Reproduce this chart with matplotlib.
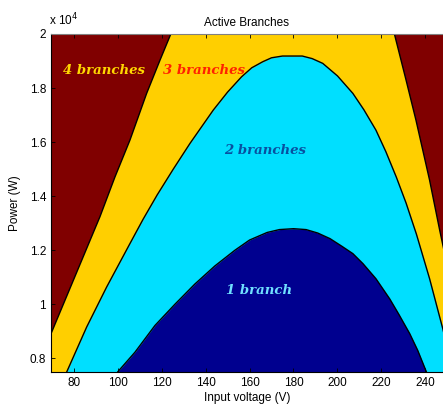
import matplotlib
matplotlib.use("Agg")
import matplotlib.pyplot as plt
from matplotlib.ticker import FuncFormatter

# Boundary of the "1 branch" region (input voltage V, power W)
b1_v = [99, 100, 107.9, 117, 126, 135.1, 144.2, 153.3, 160, 168, 173.6, 180, 185.7, 191, 196.6, 202, 207, 211.6, 217.5, 223.8, 228, 232.9, 236.5, 240.5, 242]
b1_p = [7200, 7500, 8233, 9222, 10000, 10750, 11420, 12000, 12380, 12660, 12767, 12800, 12767, 12640, 12433, 12150, 11878, 11507, 10950, 10200, 9620, 8913, 8300, 7493, 7200]

# Boundary of the "2 branches" region
b2_v = [75, 76.8, 85.9, 95, 105.6, 111.6, 118, 125.3, 132.9, 143.5, 150, 156.4, 161, 166, 170, 175, 184, 188.5, 193.3, 200, 207, 212, 217.5, 222, 226.8, 231.2, 235.9, 241.9, 247.9, 250]
b2_p = [7150, 7493, 9159, 10641, 12248, 13150, 14050, 15000, 15952, 17185, 17850, 18419, 18750, 18974, 19120, 19185, 19185, 19090, 18914, 18450, 17804, 17200, 16444, 15650, 14700, 13750, 12600, 10950, 9100, 8400]

# Boundary of the "3 branches" region (left and right edges)
b3l_v = [62.5, 70, 92, 98.8, 105.6, 113.2, 119.3, 124.2, 126]
b3l_p = [7500, 8974, 13250, 14715, 16074, 17803, 19037, 20000, 20400]
b3r_v = [225, 225.9, 231.2, 235.7, 241.9, 246.5, 250]
b3r_p = [20400, 20000, 18296, 16815, 14593, 12741, 11400]

y_ticks = [8000, 10000, 12000, 14000, 16000, 18000, 20000]
x_ticks = [80, 100, 120, 140, 160, 180, 200, 220, 240]

labels = ["4 branches", "3 branches", "2 branches", "1 branch"]
label_v = [93.8, 139.2, 167.0, 164.2]
label_p = [18667, 18667, 15704, 10519]
label_c = ["#ffd800", "#ff2000", "#0850a0", "#70e0ff"]

c_red = "#800000"
c_yel = "#ffcf00"
c_cyan = "#00dfff"
c_navy = "#00008f"

plt.rcParams['font.family'] = ['Liberation Sans', 'DejaVu Sans']
fig = plt.figure(figsize=(4.43, 4.08), dpi=100)
ax = fig.add_axes([51/443, 1-372/408, 1-51/443, (372-34)/408])
ax.set_facecolor(c_red)

yel_v = [b3l_v[0]] + b3l_v + b3r_v + [b3r_v[-1]]
yel_p = [7000] + b3l_p + b3r_p + [7000]
ax.fill(yel_v, yel_p, color=c_yel, lw=0)
ax.plot(b3l_v, b3l_p, color='black', lw=1.0)
ax.plot(b3r_v, b3r_p, color='black', lw=1.0)

ax.fill_between(b2_v, b2_p, 7000, color=c_cyan, lw=0)
ax.plot(b2_v, b2_p, color='black', lw=1.0)
ax.fill_between(b1_v, b1_p, 7000, color=c_navy, lw=0)
ax.plot(b1_v, b1_p, color='black', lw=1.0)

for t, v, p, c in zip(labels, label_v, label_p, label_c):
    ax.text(v, p, t, color=c, fontsize=9.5, style='italic', fontweight='bold',
            family='DejaVu Serif', ha='center', va='center')

ax.set_xlim(69.7, 248)
ax.set_ylim(7500, 20000)
ax.set_xticks(x_ticks)
ax.set_yticks(y_ticks)
ax.yaxis.set_major_formatter(FuncFormatter(lambda v, _: f"{v/1e4:g}"))
ax.tick_params(direction='in', top=True, right=False, length=3, labelsize=8.5, width=0.6)
ax.spines['right'].set_visible(False)
ax.spines['top'].set_color('#808080')
ax.set_xlabel('Input voltage (V)', fontsize=8.5, labelpad=2)
ax.set_ylabel('Power (W)', fontsize=8.5, labelpad=6)
ax.set_title('Active Branches', fontsize=8.5, pad=6)
fig.text(51/443 - 0.005, 1-20/408, r'x 10$^4$', fontsize=8.5, ha='left', va='center')

fig.savefig('out.png', dpi=100)
